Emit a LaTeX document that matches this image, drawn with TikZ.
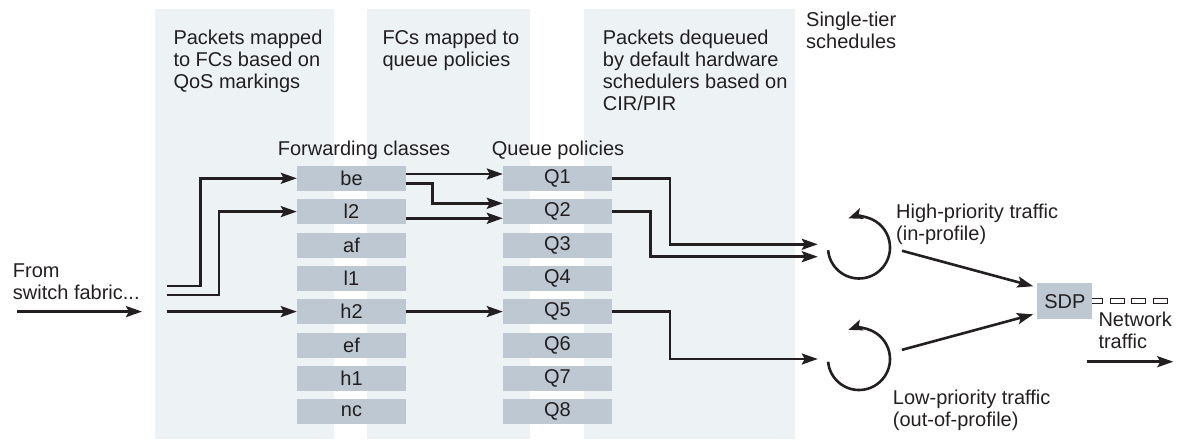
\documentclass[tikz,border=0pt]{standalone}
\usepackage{fontspec}
\setmainfont{Liberation Sans}
\definecolor{panelbg}{RGB}{237,242,245}
\definecolor{boxgrey}{RGB}{189,200,210}
\definecolor{inkdark}{RGB}{35,31,32}
\usetikzlibrary{arrows.meta, positioning, backgrounds}

\begin{document}
\begin{tikzpicture}[
  x=1pt, y=1pt,
  font=\fontsize{20}{22}\selectfont, text=inkdark,
  cbox/.style={fill=boxgrey, minimum width=109pt, minimum height=25pt, inner sep=0pt},
  note/.style={anchor=north west, align=left, inner sep=0pt},
  flow/.style={draw=inkdark, line width=2.6pt, -{Stealth[length=16pt, width=11pt, inset=3pt]}},
  looparr/.style={draw=inkdark, line width=2.6pt, -{Stealth[length=14pt, width=11pt, inset=3pt]}}
]
  \useasboundingbox (0,0) rectangle (1181,440);

  % stage panels
  \fill[panelbg] (155,1) rectangle (334,431);
  \fill[panelbg] (367,1) rectangle (530,431);
  \fill[panelbg] (584,1) rectangle (795,431);

  \node[note] (stage1) at (173.3,410.2) {Packets mapped\\to FCs based on\\QoS markings};
  \node[note] (stage2) at (382.3,410.2) {FCs mapped to\\queue policies};
  \node[note] (stage3) at (602.7,410.2) {Packets dequeued\\by default hardware\\schedulers based on\\CIR/PIR};
  \node[note] (tier) at (806,428.5) {Single-tier\\schedules};

  \node[anchor=base west, inner sep=0pt] (fclabel) at (277.7,284) {Forwarding classes};
  \node[anchor=base west, inner sep=0pt] (qlabel) at (491.7,284) {Queue policies};

  % forwarding classes
  \node[cbox] (be) at (351.5,261.7) {be};
  \node[cbox] (l2) at (351.5,228.4) {l2};
  \node[cbox] (af) at (351.5,195.0) {af};
  \node[cbox] (l1) at (351.5,161.7) {l1};
  \node[cbox] (h2) at (351.5,128.4) {h2};
  \node[cbox] (ef) at (351.5,95.0) {ef};
  \node[cbox] (h1) at (351.5,61.7) {h1};
  \node[cbox] (nc) at (351.5,28.4) {nc};

  % queue policies
  \node[cbox] (q1) at (557.5,261.7) {Q1};
  \node[cbox] (q2) at (557.5,228.4) {Q2};
  \node[cbox] (q3) at (557.5,195.0) {Q3};
  \node[cbox] (q4) at (557.5,161.7) {Q4};
  \node[cbox] (q5) at (557.5,128.4) {Q5};
  \node[cbox] (q6) at (557.5,95.0) {Q6};
  \node[cbox] (q7) at (557.5,61.7) {Q7};
  \node[cbox] (q8) at (557.5,28.4) {Q8};

  % ingress
  \node[note] (from) at (12.7,176.5) {From\\switch fabric...};
  \coordinate (srcA) at (17,128.4);
  \coordinate (srcB) at (142,128.4);
  \coordinate (in1) at (166.7,154);
  \coordinate (in2) at (166.7,145);
  \coordinate (in3) at (166.7,128.4);
  \draw[flow] (srcA) -- (srcB);
  \draw[flow] (in1) -| ([xshift=-96.3pt]be.west) -- (be.west);
  \draw[flow] (in2) -| ([xshift=-77.7pt]l2.west) -- (l2.west);
  \draw[flow] (in3) -- (h2.west);

  % FC to queue
  \draw[flow] ([yshift=4.3pt]be.east) -- ([yshift=4.3pt]q1.west);
  \draw[flow] ([yshift=-5pt]be.east) -| ([xshift=-70.4pt, yshift=8.3pt]q2.west) -- ([yshift=8.3pt]q2.west);
  \draw[flow] ([yshift=-6.7pt]l2.east) -- ([yshift=-6.7pt]q2.west);
  \draw[flow] (h2.east) -- (q5.west);

  % schedulers
  \node[circle, minimum size=62pt, inner sep=0pt] (hiq) at (859,192.5) {};
  \node[circle, minimum size=62pt, inner sep=0pt] (loq) at (859,81) {};
  \draw[looparr] ([shift={(185:31)}]hiq.center) arc[start angle=185, end angle=470, radius=31];
  \draw[looparr] ([shift={(185:31)}]loq.center) arc[start angle=185, end angle=470, radius=31];
  \node[note] (hilabel) at (896,236.5) {High-priority traffic\\(in-profile)};
  \node[note] (lolabel) at (892.7,50.5) {Low-priority traffic\\(out-of-profile)};

  \draw[flow, shorten >=10pt] (q1.east) -| ([xshift=-158pt, yshift=3.2pt]hiq.west) -- ([yshift=3.2pt]hiq.west);
  \draw[flow, shorten >=10pt] (q2.east) -| ([xshift=-177.3pt, yshift=-9.2pt]hiq.west) -- ([yshift=-9.2pt]hiq.west);
  \draw[flow, shorten >=10pt] (q5.east) -| ([xshift=-158pt]loq.west) -- (loq.west);

  % SDP
  \node[fill=boxgrey, minimum width=55pt, minimum height=36pt, inner sep=0pt] (sdp) at (1064.8,138.7) {SDP};
  \begin{scope}[on background layer]
    \foreach \i in {0,...,3}
      \draw[inkdark, line width=1.1pt, fill=white] ([xshift=\i*21.7pt-4pt, yshift=-2.5pt]sdp.east) rectangle +(14,5);
  \end{scope}
  \draw[flow, shorten >=4pt] ([xshift=12pt]hiq.-6) -- ([yshift=14pt]sdp.west);
  \draw[flow, shorten >=4pt] ([xshift=13pt]loq.17) -- ([yshift=-12pt]sdp.west);

  \node[note] (netlabel) at (1098.3,127.8) {Network\\traffic};
  \coordinate (netA) at (1086.7,78.3);
  \coordinate (netB) at (1173.3,78.3);
  \draw[flow] (netA) -- (netB);
\end{tikzpicture}
\end{document}
